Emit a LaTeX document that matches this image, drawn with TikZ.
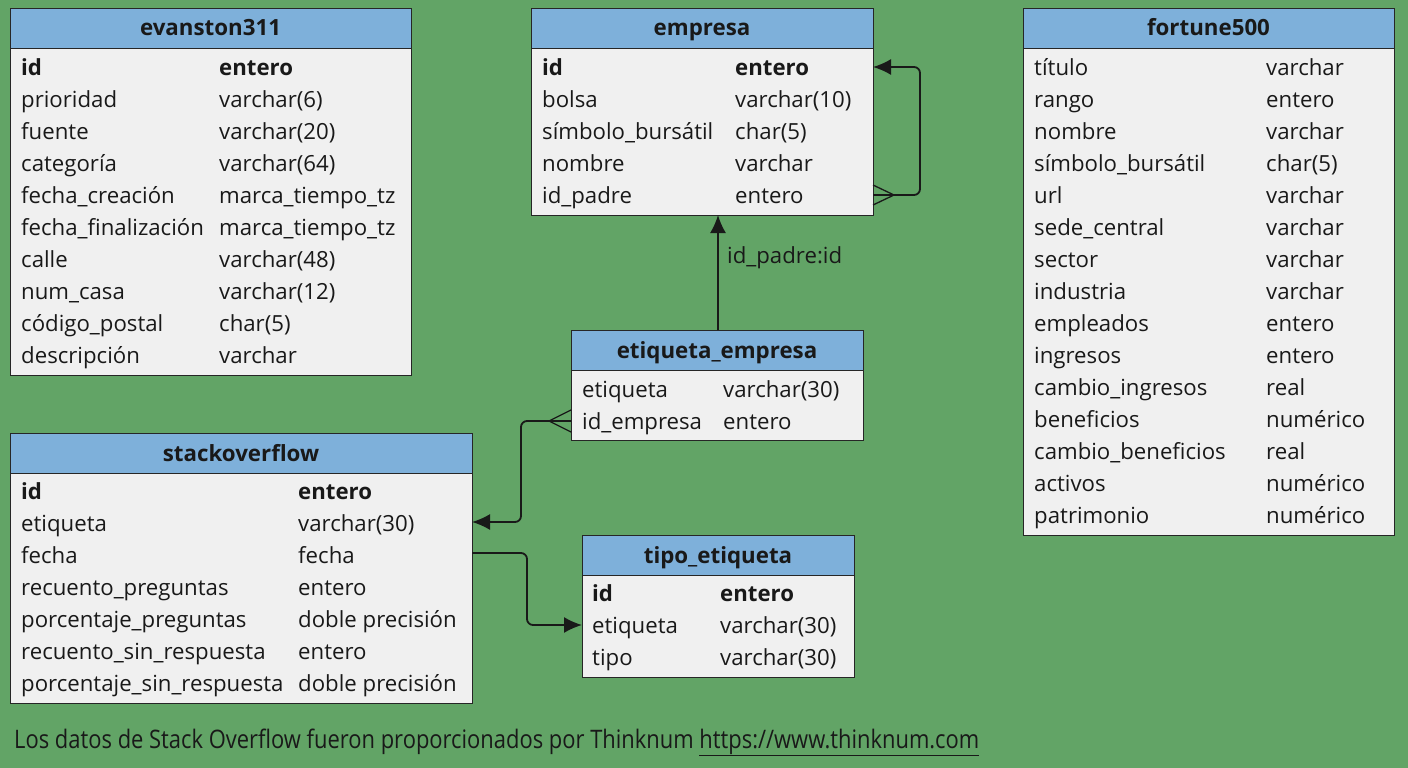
\documentclass[tikz,border=0pt]{standalone}
\usepackage{fontspec}
\setmainfont{Open Sans}
\newfontfamily\condfont[FakeStretch=0.86]{Open Sans}
\begin{document}
\begin{tikzpicture}[x=1pt,y=-1pt,
  hdr/.style={draw=black!85,line width=1.3pt,fill=hdrblue,anchor=north west,inner sep=0pt},
  bdy/.style={draw=black!85,line width=1.3pt,fill=bodygray,anchor=north west,inner sep=0pt},
  ttl/.style={anchor=base,inner sep=0pt,font=\fontsize{22.3}{24}\selectfont\bfseries,text=black!90},
  cell/.style={anchor=base west,inner sep=0pt,font=\fontsize{22.2}{26}\selectfont,text=black!90},
  bcell/.style={cell,font=\fontsize{22.2}{26}\selectfont\bfseries},
  conn/.style={line width=1.8pt,black!90,rounded corners=6pt},
  arr/.style={conn,-{Latex[length=18pt,width=16pt]}},
  crow/.style={line width=1.3pt,black!90}]
\definecolor{bg}{HTML}{62A466}
\definecolor{hdrblue}{HTML}{7EB0DA}
\definecolor{bodygray}{HTML}{F0F0F0}
\usetikzlibrary{arrows.meta}
\fill[bg] (0,0) rectangle (1408,768);
\useasboundingbox (0,0) rectangle (1408,768);
\newcommand{\mytable}[6]{% name, x1, x2, ytop, ybot, title
  \node[hdr,minimum width=#3-#2,minimum height=40] (#1h) at (#2,#4) {};
  \node[ttl] (#1t) at (#2/2+#3/2,#4+28) {#6};
  \node[bdy,minimum width=#3-#2,minimum height=#5-#4-40] (#1b) at (#2,#4+40) {};
}
% evanston311
\mytable{ev}{10}{411}{8}{375}{evanston311}
\foreach \a/\b [count=\i from 0] in {prioridad/varchar(6),fuente/varchar(20),categoría/varchar(64),fecha\_creación/marca\_tiempo\_tz,fecha\_finalización/marca\_tiempo\_tz,calle/varchar(48),num\_casa/varchar(12),código\_postal/char(5),descripción/varchar}{
  \node[cell] (eva\i) at (21,107+32*\i) {\a};
  \node[cell] (evb\i) at (219,107+32*\i) {\b};}
\node[bcell] (evid) at (21,75) {id};
\node[bcell] (evidt) at (219,75) {entero};
% empresa
\mytable{em}{531}{873}{8}{215}{empresa}
\node[bcell] (emid) at (542,75) {id};
\node[bcell] (emidt) at (735,75) {entero};
\foreach \a/\b [count=\i from 0] in {bolsa/varchar(10),símbolo\_bursátil/char(5),nombre/varchar,id\_padre/entero}{
  \node[cell] (ema\i) at (542,107+32*\i) {\a};
  \node[cell] (emb\i) at (735,107+32*\i) {\b};}
% fortune500
\mytable{fo}{1023}{1394}{8}{535}{fortune500}
\foreach \a/\b [count=\i from 0] in {título/varchar,rango/entero,nombre/varchar,símbolo\_bursátil/char(5),url/varchar,sede\_central/varchar,sector/varchar,industria/varchar,empleados/entero,ingresos/entero,cambio\_ingresos/real,beneficios/numérico,cambio\_beneficios/real,activos/numérico,patrimonio/numérico}{
  \node[cell] (foa\i) at (1034,75+32*\i) {\a};
  \node[cell] (fob\i) at (1266,75+32*\i) {\b};}
% etiqueta_empresa
\mytable{ee}{571}{863}{330}{440}{etiqueta\_empresa}
\node[cell] (eea0) at (582,397) {etiqueta};
\node[cell] (eeb0) at (723,397) {varchar(30)};
\node[cell] (eea1) at (582,429) {id\_empresa};
\node[cell] (eeb1) at (723,429) {entero};
% stackoverflow
\mytable{so}{10}{472}{433}{703}{stackoverflow}
\node[bcell] (soid) at (21,499) {id};
\node[bcell] (soidt) at (298,499) {entero};
\foreach \a/\b [count=\i from 0] in {etiqueta/varchar(30),fecha/fecha,recuento\_preguntas/entero,porcentaje\_preguntas/doble precisión,recuento\_sin\_respuesta/entero,porcentaje\_sin\_respuesta/doble precisión}{
  \node[cell] (soa\i) at (21,531+32*\i) {\a};
  \node[cell] (sob\i) at (298,531+32*\i) {\b};}
% tipo_etiqueta
\mytable{te}{582}{854}{535}{677}{tipo\_etiqueta}
\node[bcell] (teid) at (592,601) {id};
\node[bcell] (teidt) at (720,601) {entero};
\node[cell] (tea0) at (592,633) {etiqueta};
\node[cell] (teb0) at (720,633) {varchar(30)};
\node[cell] (tea1) at (592,665) {tipo};
\node[cell] (teb1) at (720,665) {varchar(30)};
% connectors
\coordinate (c1) at (718,215);
\draw[arr] (eeh.north -| c1) -- (c1);
\node[cell] (lbl) at (727,263) {id\_padre:id};
\coordinate (s1) at (873,195);
\coordinate (s2) at (873,67);
\draw[arr] (s1) -- (920,195) -- (920,67) -- (s2);
\draw[crow] (873,185) -- (894,195) -- (873,205);
\coordinate (e1) at (571,421);
\coordinate (e2) at (472,522);
\draw[arr] (e1) -- (521,421) -- (521,522) -- (e2);
\draw[crow] (571,410) -- (549,421) -- (571,432);
\coordinate (t1) at (472,553);
\coordinate (t2) at (582,625);
\draw[arr] (t1) -- (527,553) -- (527,625) -- (t2);
% footer
\node[anchor=base west,inner sep=0pt,text=black!90,font=\condfont\fontsize{25.5}{28}\selectfont] (foot) at (14,748) {Los datos de Stack Overflow fueron proporcionados por Thinknum \underline{https://www.thinknum.com}};
\end{tikzpicture}
\end{document}
